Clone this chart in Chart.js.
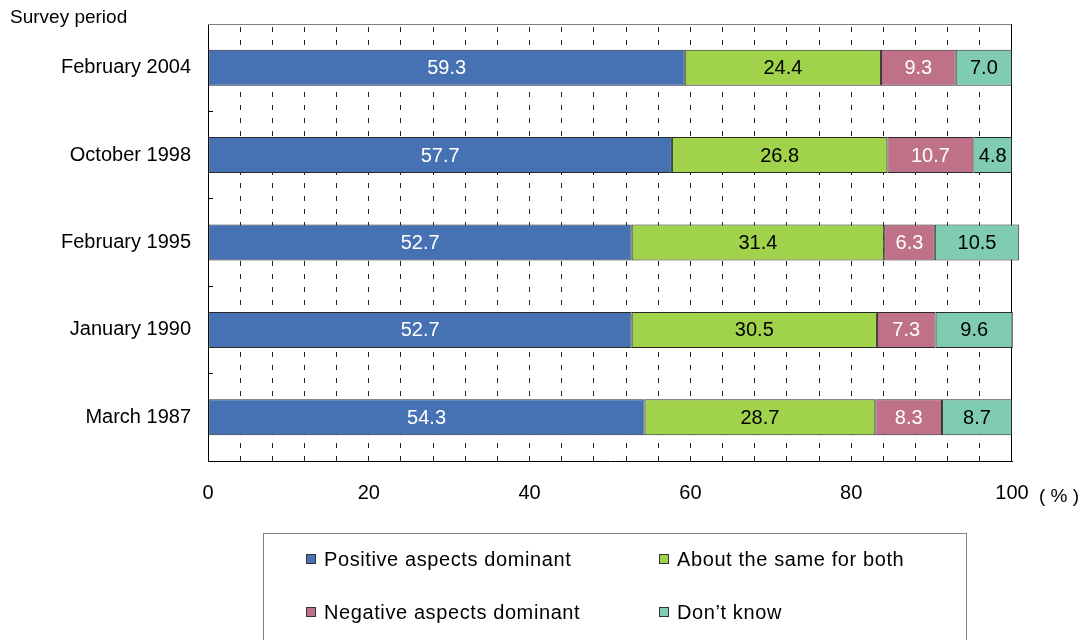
<!DOCTYPE html>
<html>
<head>
<meta charset="utf-8">
<script src="https://cdn.jsdelivr.net/npm/chart.js@4/dist/chart.umd.min.js"></script>
<style>
  html, body { margin: 0; padding: 0; background: #fff; overflow: hidden; }
  #wrap { position: relative; width: 1082px; height: 640px; }
  #chart { position: absolute; left: 0; top: 0; }
  #legend {
    position: absolute; left: 263px; top: 533px; width: 704px; height: 130px;
    border: 1px solid #808080; box-sizing: border-box;
    font-family: "Liberation Sans", Arial, sans-serif; font-size: 20px; color: #000;
  }
  .item { position: absolute; white-space: nowrap; line-height: 24px; letter-spacing: 0.6px; }
  .swatch {
    position: absolute; width: 10px; height: 10px; box-sizing: border-box;
    border: 1px solid #333; left: 0; top: 7px;
  }
  .item span.txt { position: absolute; left: 18px; top: 0; }
</style>
</head>
<body>
<div id="wrap">
  <canvas id="chart" width="1082" height="640"></canvas>
  <div id="legend"></div>
</div>
<script>
// Survey periods, newest first (top to bottom)
const categories = ['February 2004', 'October 1998', 'February 1995', 'January 1990', 'March 1987'];

// Shares of respondents (%)
const positiveDominant = [59.3, 57.7, 52.7, 52.7, 54.3];
const aboutTheSame     = [24.4, 26.8, 31.4, 30.5, 28.7];
const negativeDominant = [9.3, 10.7, 6.3, 7.3, 8.3];
const dontKnow         = [7.0, 4.8, 10.5, 9.6, 8.7];

const seriesNames = ['Positive aspects dominant', 'About the same for both', 'Negative aspects dominant', 'Don\u2019t know'];
const seriesColors = ['#4672B4', '#A0D24B', '#BE7187', '#7FCCB1'];
const labelColors = ['#ffffff', '#000000', '#ffffff', '#000000'];

// Labelled x-axis values; grid lines fall every 4 points
const xTickLabels = [0, 20, 40, 60, 80, 100];

const FONT = '"Liberation Sans", Arial, sans-serif';
Chart.defaults.font.family = FONT;
Chart.defaults.color = '#000';

const seriesValues = [positiveDominant, aboutTheSame, negativeDominant, dontKnow];

// Frame lines (top and right edge) and free-standing text
const framePlugin = {
  id: 'frame',
  beforeDatasetsDraw(chart) {
    const { ctx, chartArea: a } = chart;
    ctx.save();
    ctx.lineWidth = 1;
    ctx.strokeStyle = '#808080';
    ctx.beginPath();
    ctx.moveTo(a.left, Math.round(a.top) + 0.5);
    ctx.lineTo(a.right, Math.round(a.top) + 0.5);
    ctx.stroke();
    ctx.strokeStyle = '#000';
    ctx.beginPath();
    ctx.moveTo(Math.round(a.right) - 0.5, a.top);
    ctx.lineTo(Math.round(a.right) - 0.5, a.bottom);
    ctx.stroke();
    ctx.restore();
  },
  afterDraw(chart) {
    const { ctx, chartArea: a } = chart;
    ctx.save();
    ctx.fillStyle = '#000';
    ctx.font = '19px ' + FONT;
    ctx.textBaseline = 'middle';
    ctx.textAlign = 'left';
    ctx.fillText('Survey period', 10, 18);
    ctx.fillText('( % )', a.right + 27, a.bottom + 36);
    ctx.restore();
  }
};

// Value labels centred inside each bar segment
const valueLabelPlugin = {
  id: 'valueLabels',
  afterDatasetsDraw(chart) {
    const { ctx } = chart;
    ctx.save();
    ctx.font = '20px ' + FONT;
    ctx.textAlign = 'center';
    ctx.textBaseline = 'middle';
    chart.data.datasets.forEach((ds, di) => {
      const meta = chart.getDatasetMeta(di);
      ctx.fillStyle = labelColors[di];
      meta.data.forEach((el, i) => {
        const p = el.getProps(['x', 'y', 'base'], true);
        ctx.fillText(ds.data[i].toFixed(1), (p.x + p.base) / 2, p.y + 1);
      });
    });
    ctx.restore();
  }
};

const chart = new Chart(document.getElementById('chart'), {
  type: 'bar',
  data: {
    labels: categories,
    datasets: seriesValues.map((vals, i) => ({
      label: seriesNames[i],
      data: vals,
      backgroundColor: seriesColors[i],
      borderColor: '#2a2a2a',
      borderWidth: 1,
      borderSkipped: false,
      barPercentage: 0.412,
      categoryPercentage: 1,
      clip: false
    }))
  },
  options: {
    indexAxis: 'y',
    responsive: false,
    animation: false,
    layout: { padding: { top: 24, right: 70, left: 0, bottom: 0 } },
    plugins: {
      legend: { display: false },
      tooltip: { enabled: false }
    },
    scales: {
      x: {
        stacked: true,
        min: 0,
        max: 100,
        afterFit(scale) { scale.height = 179; },
        ticks: {
          stepSize: 4,
          autoSkip: false,
          maxRotation: 0,
          padding: 20,
          font: { size: 20 },
          callback: (v) => xTickLabels.includes(v) ? String(v) : ''
        },
        grid: {
          drawTicks: false,
          lineWidth: 1,
          color: (c) => (c.tick && (c.tick.value === 0 || c.tick.value === 100)) ? 'rgba(0,0,0,0)' : '#222'
        },
        border: { display: true, color: '#000', width: 1, dash: [5, 8], dashOffset: 10 }
      },
      y: {
        stacked: true,
        afterFit(scale) {
          scale.width = 208;
          scale.paddingTop = 0;
          scale.paddingBottom = 0;
        },
        ticks: { padding: 22, font: { size: 20 } },
        grid: {
          offset: true,
          drawOnChartArea: false,
          drawTicks: true,
          tickLength: -5,
          color: '#000'
        },
        border: { display: true, color: '#000', width: 1 }
      }
    }
  },
  plugins: [framePlugin, valueLabelPlugin]
});

// Legend box built from the chart's datasets
const legendEl = document.getElementById('legend');
const colX = [42, 395];
const rowY = [13, 66];
chart.data.datasets.forEach((ds, i) => {
  const item = document.createElement('div');
  item.className = 'item';
  item.style.left = colX[i % 2] + 'px';
  item.style.top = rowY[Math.floor(i / 2)] + 'px';
  const sw = document.createElement('div');
  sw.className = 'swatch';
  sw.style.background = ds.backgroundColor;
  const txt = document.createElement('span');
  txt.className = 'txt';
  txt.textContent = ds.label;
  item.appendChild(sw);
  item.appendChild(txt);
  legendEl.appendChild(item);
});
</script>
</body>
</html>
